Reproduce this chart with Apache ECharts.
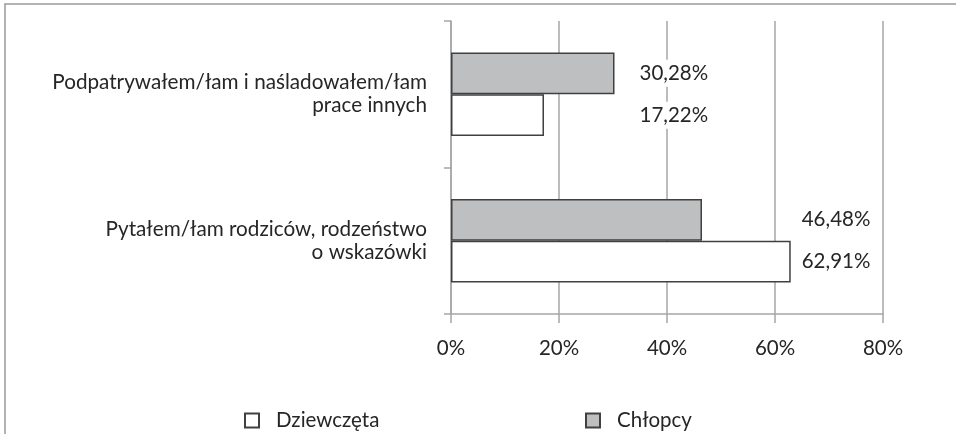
<!DOCTYPE html>
<html>
<head>
<meta charset="utf-8">
<script src="https://cdn.jsdelivr.net/npm/echarts@6/dist/echarts.min.js"></script>
<style>
html,body{margin:0;padding:0;background:#fff;}
#main{width:956px;height:434px;}
</style>
</head>
<body>
<div id="main"></div>
<script>
// kategorie od dolu do gory (os y w echarts)
var categories = ['Pytałem/łam rodziców, rodzeństwo\no wskazówki', 'Podpatrywałem/łam i naśladowałem/łam\nprace innych'];
var dziewczeta = [62.91, 17.22];
var chlopcy = [46.48, 30.28];
var xTicks = [0, 20, 40, 60, 80];
var labelGap = [9, 23]; //odstep etykiety od dluzszego slupka w kategorii

var font = 'Lato, "Open Sans", sans-serif';
var textColor = '#262626';
var lineColor = '#a6a6a6';

function fmt(v){
	return v.toFixed(2).replace('.', ',') + '%';
}

var myChart = echarts.init(document.getElementById('main'));

function labelData(values, other, px){
	var res = [];
	for (var i = 0; i < values.length; i++) {
		var max = Math.max(values[i], other[i]);
		res.push({
			value: values[i],
			label: {distance: labelGap[i] + (max - values[i]) * px}
		});
	}
	return res;
}

function buildOption(px){
	return {
		animation: false,
		textStyle: {fontFamily: font},
		graphic: [{
			type: 'rect',
			shape: {x: 5, y: 4, width: 1200, height: 800},
			style: {fill: 'none', stroke: '#9a9a9a', lineWidth: 1.5},
			silent: true
		}],
		grid: {left: 451, right: 73, top: 21, bottom: 120},
		legend: [{
			data: ['Dziewczęta'],
			left: 239, top: 405,
			icon: 'rect', itemWidth: 14, itemHeight: 14,
			textStyle: {fontFamily: font, fontSize: 20.5, color: textColor, padding: [0, 0, 0, 12]}
		}, {
			data: ['Chłopcy'],
			left: 580, top: 405,
			icon: 'rect', itemWidth: 14, itemHeight: 14,
			textStyle: {fontFamily: font, fontSize: 20.5, color: textColor, padding: [0, 0, 0, 12]}
		}],
		xAxis: {
			type: 'value',
			min: xTicks[0], max: xTicks[xTicks.length - 1], interval: 20,
			axisLine: {show: true, lineStyle: {color: lineColor, width: 1.5}},
			axisTick: {show: true, length: 9, lineStyle: {color: lineColor, width: 1.5}},
			splitLine: {show: true, lineStyle: {color: lineColor, width: 1.5}},
			axisLabel: {
				margin: 24, fontSize: 20.5, color: textColor, fontFamily: font,
				formatter: function(v){ return v + '%'; }
			}
		},
		yAxis: {
			type: 'category',
			data: categories,
			axisLine: {show: true, lineStyle: {color: lineColor, width: 1.5}},
			axisTick: {show: true, length: 7, lineStyle: {color: lineColor, width: 1.5}},
			axisLabel: {
				margin: 24, fontSize: 20.7, color: textColor, fontFamily: font,
				lineHeight: 23, align: 'right'
			}
		},
		// pierwsza seria rysowana jest u gory kategorii
		series: [{
			name: 'Chłopcy',
			type: 'bar',
			data: labelData(chlopcy, dziewczeta, px),
			barGap: '0%',
			barCategoryGap: '43%',
			itemStyle: {color: '#bebfc1', borderColor: '#404040', borderWidth: 1.5},
			label: {
				show: true, position: 'right', fontSize: 20.5, color: textColor, fontFamily: font,
				backgroundColor: '#ffffff', padding: [3, 2],
				formatter: function(p){ return fmt(p.value); }
			}
		}, {
			name: 'Dziewczęta',
			type: 'bar',
			data: labelData(dziewczeta, chlopcy, px),
			itemStyle: {color: '#ffffff', borderColor: '#404040', borderWidth: 1.5},
			label: {
				show: true, position: 'right', fontSize: 20.5, color: textColor, fontFamily: font,
				backgroundColor: '#ffffff', padding: [3, 2],
				formatter: function(p){ return fmt(p.value); }
			}
		}]
	};
}

myChart.setOption(buildOption(0));
//przeliczenie przesuniec etykiet wg skali osi
var px = (myChart.convertToPixel({xAxisIndex: 0}, 10) - myChart.convertToPixel({xAxisIndex: 0}, 0)) / 10;
myChart.setOption(buildOption(px));
</script>
</body>
</html>
